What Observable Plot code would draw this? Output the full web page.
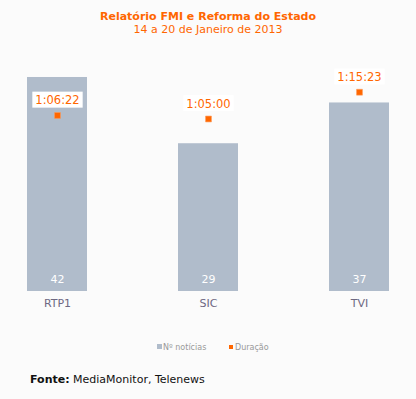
<!DOCTYPE html>
<html>
<head>
<meta charset="utf-8">
<script src="https://cdn.jsdelivr.net/npm/d3@7"></script>
<script src="https://cdn.jsdelivr.net/npm/@observablehq/plot@0.6"></script>
<style>
  html, body { margin: 0; padding: 0; background: #fbfbfb; }
  body { width: 416px; height: 399px; position: relative; overflow: hidden; font-family: "DejaVu Sans", Verdana, sans-serif; }
  #title { position: absolute; top: 10px; left: 0; width: 416px; text-align: center; color: #ff6600; font-weight: bold; font-size: 11px; line-height: 13px; }
  #subtitle { position: absolute; top: 23px; left: 0; width: 416px; text-align: center; color: #ff6600; font-size: 11px; line-height: 13px; }
  #chart { position: absolute; top: 40px; left: 0; }
  #legend { position: absolute; top: 342px; left: 0; width: 416px; font-size: 8px; line-height: 12px; color: #999; }
  #legend .item { position: absolute; top: 0; white-space: nowrap; }
  #legend .sw { display: inline-block; vertical-align: middle; margin-right: 1px; position: relative; top: -1px; }
  #fonte { position: absolute; top: 372px; left: 30px; font-size: 11px; line-height: 16px; color: #111; }
</style>
</head>
<body>
<div id="title">Relatório FMI e Reforma do Estado</div>
<div id="subtitle">14 a 20 de Janeiro de 2013</div>
<div id="chart"></div>
<div id="legend">
  <span class="item" style="left:157px"><span class="sw" style="width:5px;height:5px;background:#b0bccb"></span>Nº notícias</span>
  <span class="item" style="left:229px"><span class="sw" style="width:4px;height:4px;background:#ff6600;margin-right:2px"></span>Duração</span>
</div>
<div id="fonte"><b>Fonte:</b> MediaMonitor, Telenews</div>
<script>
const channels = ["RTP1", "SIC", "TVI"];
const noticias = [42, 29, 37];
const duracaoLabels = ["1:06:22", "1:05:00", "1:15:23"];

// duration in seconds parsed from labels
const duracaoSec = duracaoLabels.map(s => {
  const [h, m, sec] = s.split(":").map(Number);
  return h * 3600 + m * 60 + sec;
});

// secondary (duration) axis mapped onto the count axis
const yMax = 45;
const durScale = d3.scaleLinear().domain([-116, 5222]).range([0, yMax]);

const data = channels.map((c, i) => ({
  canal: c,
  n: noticias[i],
  dur: duracaoSec[i],
  durY: durScale(duracaoSec[i]),
  durLabel: duracaoLabels[i]
}));

const chart = Plot.plot({
  width: 416,
  height: 280,
  marginLeft: 27,
  marginRight: 26,
  marginTop: 21.7,
  marginBottom: 29,
  style: { background: "transparent", fontFamily: "DejaVu Sans, Verdana, sans-serif" },
  x: { domain: channels, paddingInner: 0.6, paddingOuter: 0, label: null },
  y: { domain: [0, yMax], axis: null },
  marks: [
    Plot.barY(data, { x: "canal", y: "n", fill: "#b0bccb" }),
    Plot.text(data, { x: "canal", y: 0, text: d => String(d.n), dy: -12, fill: "white", fontSize: 11 }),
    Plot.dot(data, { x: "canal", y: "durY", symbol: "square", r: 3.3, fill: "#ff6600", stroke: "#ff9955", strokeWidth: 0.6 }),
    Plot.text(data, { x: "canal", y: "durY", text: "durLabel", dy: -15, fill: "#ff6600", fontSize: 11.5 }),
    Plot.axisX({ tickSize: 0, tickPadding: 8, fontSize: 11, color: "#6e6882" })
  ]
});

document.getElementById("chart").appendChild(chart);

// white label boxes behind duration labels
const textGroups = chart.querySelectorAll("g[aria-label='text']");
const durGroup = textGroups[1];
durGroup.querySelectorAll("text").forEach(t => {
  const bb = t.getBBox();
  const r = document.createElementNS("http://www.w3.org/2000/svg", "rect");
  r.setAttribute("x", bb.x - 3);
  r.setAttribute("y", bb.y - 1.5);
  r.setAttribute("width", bb.width + 6);
  r.setAttribute("height", bb.height + 2);
  r.setAttribute("fill", "white");
  const tr = t.getAttribute("transform");
  if (tr) r.setAttribute("transform", tr);
  durGroup.insertBefore(r, t);
});
</script>
</body>
</html>
